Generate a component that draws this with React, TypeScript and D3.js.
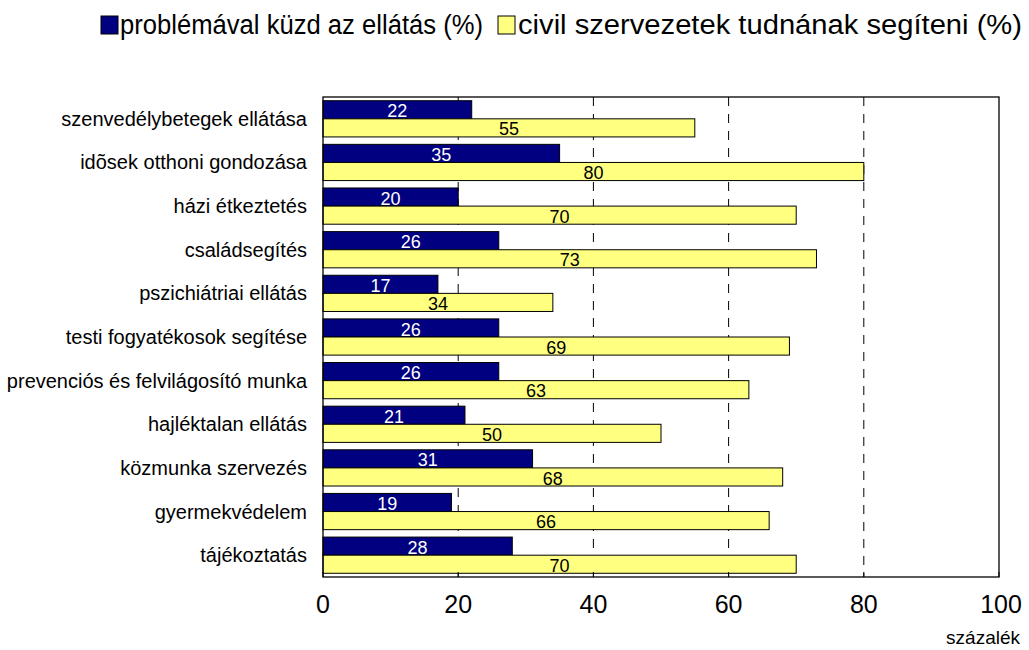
import React from 'react';
import * as d3 from 'd3';

// categories, top to bottom
const categories = [
  'szenvedélybetegek ellátása',
  'idõsek otthoni gondozása',
  'házi étkeztetés',
  'családsegítés',
  'pszichiátriai ellátás',
  'testi fogyatékosok segítése',
  'prevenciós és felvilágosító munka',
  'hajléktalan ellátás',
  'közmunka szervezés',
  'gyermekvédelem',
  'tájékoztatás',
];
const problemValues = [22, 35, 20, 26, 17, 26, 26, 21, 31, 19, 28];
const civilValues = [55, 80, 70, 73, 34, 69, 63, 50, 68, 66, 70];
const seriesNames = ['problémával küzd az ellátás (%)', 'civil szervezetek tudnának segíteni (%)'];
const xTicks = [0, 20, 40, 60, 80, 100];

const W = 1029;
const H = 650;
const margin = { top: 97, right: 30, bottom: 73, left: 323 };
const colors = ['#000080', '#FFFF80'];
const textColors = ['#ffffff', '#000000'];
const sans = 'Liberation Sans, Arial, sans-serif';

// legend entries: box x, text start and text width
const legendItems = [
  { box: 101, text: 120, len: 363 },
  { box: 498, text: 518, len: 504 },
];

const App = () => {
  const x = d3.scaleLinear().domain([0, 100]).range([margin.left, W - margin.right]);
  const y = d3.scaleBand<string>()
    .domain(categories)
    .range([margin.top, H - margin.bottom])
    .paddingInner(0.17)
    .paddingOuter(0.085);
  const sub = d3.scaleBand<number>().domain([0, 1]).range([0, y.bandwidth()]);

  const series = [problemValues, civilValues];
  const top = margin.top;
  const bottom = H - margin.bottom;

  return (
    <svg width={W} height={H} style={{ position: 'absolute', left: 0, top: 0 }}>
      <rect x={0} y={0} width={W} height={H} fill="#fff" />

      {/* legend */}
      <g fontFamily={sans} fontSize={27}>
        {legendItems.map((l, i) => (
          <g key={i}>
            <rect x={l.box} y={16} width={17} height={18} fill={colors[i]} stroke="#000" />
            <text x={l.text} y={34} textLength={l.len} lengthAdjust="spacingAndGlyphs">{seriesNames[i]}</text>
          </g>
        ))}
      </g>

      {/* grid */}
      {xTicks.filter(t => t > 0 && t < 100).map(t => (
        <line key={t} x1={x(t)} x2={x(t)} y1={top} y2={bottom}
          stroke="#000" strokeWidth={1} strokeDasharray="9,8" />
      ))}

      {/* bars */}
      {series.map((vals, si) => vals.map((v, i) => {
        const by = (y(categories[i]) ?? 0) + (sub(si) ?? 0);
        const bh = sub.bandwidth();
        return (
          <g key={`${si}-${i}`}>
            <rect x={x(0)} y={by} width={x(v) - x(0)} height={bh}
              fill={colors[si]} stroke="#000" strokeWidth={1} />
            <text x={(x(0) + x(v)) / 2} y={by + bh - 1.5} textAnchor="middle"
              fontFamily={sans} fontSize={18} fill={textColors[si]}>{v}</text>
          </g>
        );
      }))}

      {/* plot frame */}
      <rect x={x(0)} y={top} width={x(100) - x(0)} height={bottom - top}
        fill="none" stroke="#000" strokeWidth={1.3} />
      {xTicks.map(t => (
        <line key={t} x1={x(t)} x2={x(t)} y1={bottom} y2={bottom - 5} stroke="#000" />
      ))}

      {/* category labels */}
      {categories.map(c => (
        <text key={c} x={margin.left - 16} y={(y(c) ?? 0) + y.bandwidth() / 2 + 7}
          textAnchor="end" fontFamily={sans} fontSize={20}>{c}</text>
      ))}

      {/* x tick labels */}
      {xTicks.map(t => (
        <text key={t} x={x(t) + (t === 100 ? 2 : 0)} y={613} textAnchor="middle"
          fontFamily={sans} fontSize={25}>{t}</text>
      ))}
      <text x={1020} y={644} textAnchor="end" fontFamily={sans} fontSize={19}>százalék</text>
    </svg>
  );
};

export default App;
